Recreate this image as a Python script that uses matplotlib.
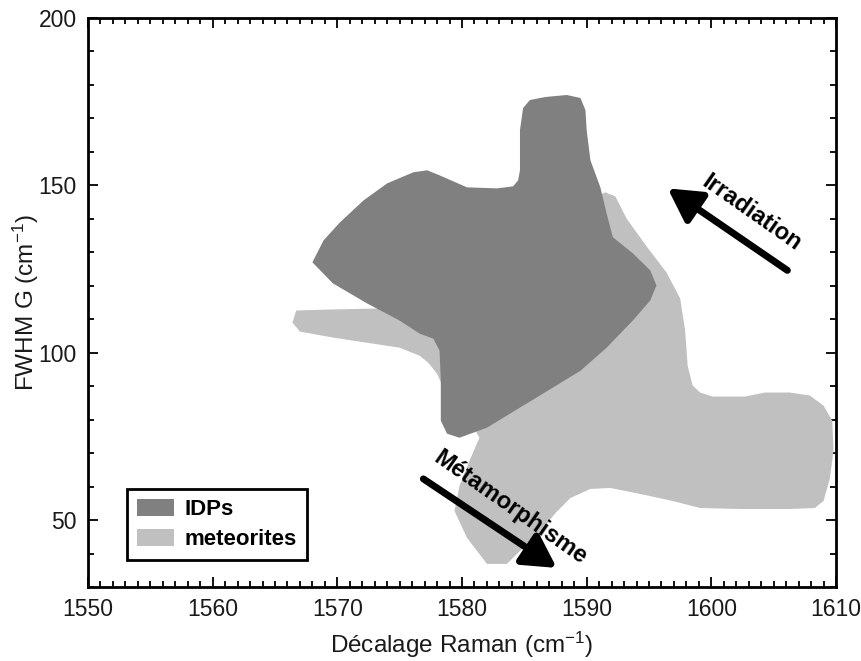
import matplotlib
matplotlib.use("Agg")
import matplotlib.pyplot as plt
from matplotlib.patches import Patch
from matplotlib.ticker import MultipleLocator

plt.rcParams['font.family'] = ['Liberation Sans', 'DejaVu Sans']
plt.rcParams['mathtext.default'] = 'regular'

# ---- data ----
idp_x = [1568.0, 1568.9, 1570.2, 1572.1, 1574.0, 1576.1, 1577.2, 1578.2, 1580.4, 1582.8,
         1584.1, 1584.5, 1584.65, 1584.65, 1584.9, 1585.45, 1586.7, 1588.4, 1589.5, 1589.9,
         1590.0, 1590.3, 1591.1, 1591.6, 1592.1, 1593.7, 1595.1, 1595.6, 1595.1, 1593.7,
         1591.6, 1589.5, 1587.3, 1584.65, 1582.0, 1579.8, 1578.8, 1578.3, 1578.3, 1578.2,
         1577.7, 1576.6, 1575.0, 1572.4, 1569.65]
idp_y = [127.0, 133.6, 138.9, 145.5, 150.6, 153.9, 154.5, 153.0, 149.4, 149.1,
         149.7, 151.5, 154.5, 166.5, 173.1, 175.5, 176.4, 177.0, 176.1, 172.5,
         166.5, 157.5, 149.4, 141.6, 134.5, 129.7, 124.6, 120.1, 115.6, 109.6,
         101.5, 94.6, 89.6, 83.6, 77.6, 74.6, 75.8, 79.7, 91.7, 100.6,
         104.2, 105.7, 109.6, 114.7, 120.7]

met_x = [1590.9, 1591.5, 1592.3, 1593.2, 1594.8, 1596.4, 1597.5, 1597.9, 1598.1, 1598.5,
         1599.1, 1600.1, 1602.7, 1604.3, 1606.3, 1607.9, 1609.0, 1609.7, 1609.8, 1609.5,
         1609.0, 1608.3, 1606.3, 1602.3, 1599.1, 1596.9, 1594.3, 1591.9, 1590.3, 1588.7,
         1587.5, 1586.3, 1584.9, 1583.6, 1582.0, 1580.4, 1579.4, 1579.8, 1580.6, 1581.4,
         1580.6, 1578.6, 1578.0, 1577.3, 1576.6, 1575.0, 1569.7, 1567.0, 1566.4, 1566.7,
         1569.4, 1573.2, 1576.6, 1584.7]
met_y = [147.0, 147.9, 146.7, 140.1, 131.8, 124.0, 116.2, 106.6, 96.1, 90.2,
         88.1, 86.9, 86.9, 88.1, 88.1, 87.2, 84.2, 79.7, 70.7, 62.3,
         55.7, 53.6, 53.3, 53.3, 53.6, 55.7, 57.8, 59.6, 59.3, 56.6,
         52.1, 46.7, 41.7, 36.9, 36.9, 44.7, 52.7, 60.2, 67.7, 74.6,
         79.7, 88.7, 93.7, 97.0, 99.1, 101.5, 104.5, 106.3, 109.0, 112.6,
         112.9, 113.2, 115.6, 130.6]

series_labels = ['IDPs', 'meteorites']
series_colors = ['#808080', '#c0c0c0']

irr_arrow = [(1606.1, 124.6), (1596.5, 149.1)]   # tail, head
met_arrow = [(1576.9, 62.3), (1587.6, 35.7)]     # tail, head
irr_text = ('Irradiation', 1603.2, 141.8, -35)
met_text = ('Métamorphisme', 1583.9, 53.8, -35)

xlim = (1550, 1610)
ylim = (30, 200)
xticks = [1550, 1560, 1570, 1580, 1590, 1600, 1610]
yticks = [50, 100, 150, 200]

# ---- figure ----
fig = plt.figure(figsize=(8.62, 6.61), dpi=100)
ax = fig.add_axes([88 / 862, 1 - 587 / 661, 748 / 862, 569 / 661])

ax.fill(met_x, met_y, color=series_colors[1], lw=0, zorder=2)
ax.fill(idp_x, idp_y, color=series_colors[0], lw=0, zorder=3)

for (tail, head) in (irr_arrow, met_arrow):
    ax.annotate('', xy=head, xytext=tail,
                arrowprops=dict(arrowstyle='-|>,head_length=0.9,head_width=0.5',
                                lw=5, color='black', mutation_scale=22,
                                shrinkA=0, shrinkB=0),
                zorder=5)

for (txt, tx, ty, rot) in (irr_text, met_text):
    ax.text(tx, ty, txt, rotation=rot, rotation_mode='anchor', ha='center', va='center',
            fontsize=17, fontweight='bold', color='black', zorder=6)

ax.set_xlim(*xlim)
ax.set_ylim(*ylim)
ax.set_xticks(xticks)
ax.set_yticks(yticks)
ax.xaxis.set_minor_locator(MultipleLocator(1))
ax.yaxis.set_minor_locator(MultipleLocator(10))
ax.tick_params(which='both', direction='in', top=True, right=True, width=1.3, colors='black',
               labelcolor='#1a1a1a', labelsize=16.5)
ax.tick_params(which='major', length=7.5, pad=8)
ax.tick_params(which='minor', length=4)
for s in ax.spines.values():
    s.set_linewidth(2)

ax.set_xlabel('Décalage Raman (cm$^{-1}$)', fontsize=17.5, color='#1a1a1a', labelpad=6)
ax.set_ylabel('FWHM G (cm$^{-1}$)', fontsize=17.5, color='#1a1a1a', va='center')
ax.yaxis.set_label_coords(-0.083, 0.5)

handles = [Patch(facecolor=c, edgecolor='none', label=l) for c, l in zip(series_colors, series_labels)]
leg = ax.legend(handles=handles, loc='lower left', bbox_to_anchor=(0.052, 0.047),
                borderaxespad=0, fancybox=False, frameon=True, framealpha=1,
                prop=dict(weight='bold', size=16), handlelength=1.65, handleheight=0.8,
                handletextpad=0.5, labelspacing=0.4, borderpad=0.45)
leg.get_frame().set_edgecolor('black')
leg.get_frame().set_linewidth(2)
leg.set_zorder(7)

fig.savefig('out.png', dpi=100)
